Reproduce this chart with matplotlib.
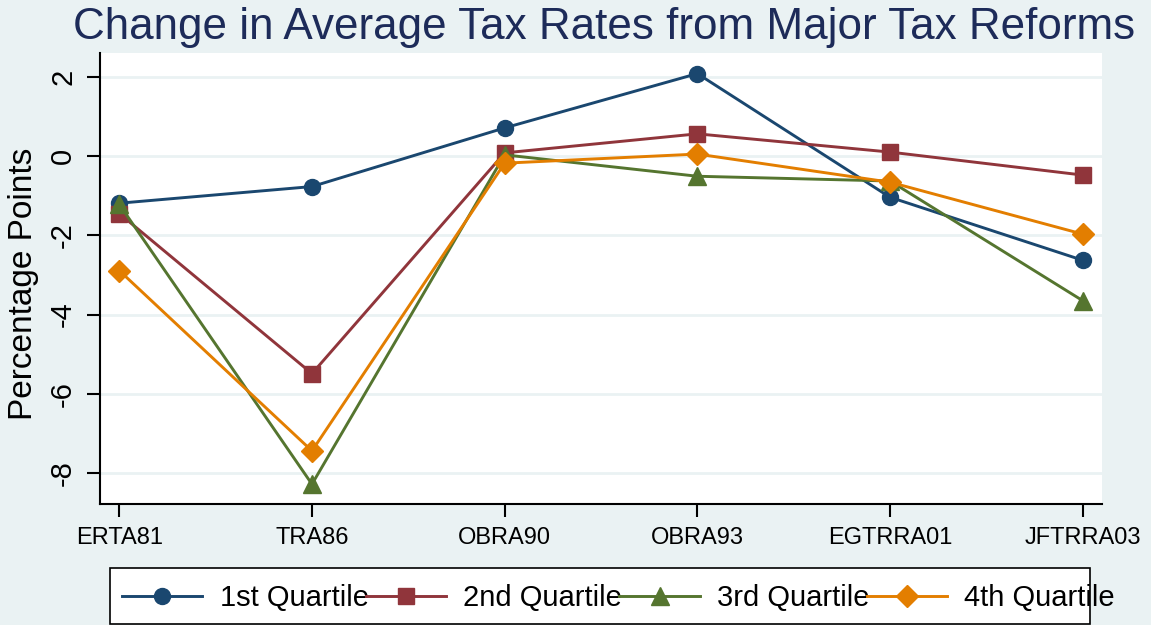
import matplotlib.pyplot as plt
from matplotlib.patches import Rectangle

# 税制改正ごとの平均税率の変化（パーセントポイント）
reforms = ["ERTA81", "TRA86", "OBRA90", "OBRA93", "EGTRRA01", "JFTRRA03"]
q1 = [-1.19, -0.77, 0.71, 2.08, -1.04, -2.63]
q2 = [-1.45, -5.49, 0.08, 0.56, 0.10, -0.48]
q3 = [-1.22, -8.28, 0.03, -0.51, -0.63, -3.65]
q4 = [-2.89, -7.44, -0.18, 0.05, -0.66, -1.97]
labels = ["1st Quartile", "2nd Quartile", "3rd Quartile", "4th Quartile"]

plt.rcParams["font.family"] = ["Liberation Sans", "DejaVu Sans"]

W, H = 1151, 625
bg = "#eaf2f3"
series = [
    (q1, "#1a476f", "o", 11.5),
    (q2, "#90353b", "s", 11.5),
    (q3, "#55752f", "^", 13.5),
    (q4, "#e37e00", "D", 11),
]

fig = plt.figure(figsize=(W / 100, H / 100), dpi=100, facecolor=bg)
ax = fig.add_axes([100 / W, 1 - 504 / H, 1002 / W, 451 / H])

x = list(range(len(reforms)))
for (vals, col, mk, ms), lab in zip(series, labels):
    ax.plot(x, vals, color=col, marker=mk, markersize=ms, lw=2.1, label=lab, zorder=3)

ax.set_xlim(-0.1, 5.1)
ax.set_ylim(-8.78, 2.6)
ax.set_xticks(x)
ax.set_xticklabels(reforms, fontsize=17)
ax.set_yticks([2, 0, -2, -4, -6, -8])
ax.set_yticklabels(["2", "0", "-2", "-4", "-6", "-8"], fontsize=21, rotation=90, va="center")
ax.tick_params(length=9.5, width=1.5)
ax.tick_params(axis="x", pad=7)
ax.tick_params(axis="y", pad=7)

ax.grid(axis="y", color=bg, lw=2, zorder=0)
ax.spines["top"].set_visible(False)
ax.spines["right"].set_visible(False)
ax.spines["left"].set_linewidth(1.5)
ax.spines["bottom"].set_linewidth(1.5)

ax.set_ylabel("Percentage Points", fontsize=24, va="center")
ax.yaxis.set_label_coords((24 - 100) / 1002, (504 - 284) / 451)

fig.text(604 / W, 1 - 28 / H, "Change in Average Tax Rates from Major Tax Reforms",
         ha="center", va="center", fontsize=31.7, color="#1d2b59")

# 凡例の枠（Stata風に文字がはみ出す）
fig.patches.append(Rectangle((110 / W, 1 - 624 / H), 980 / W, 56 / H,
                             transform=fig.transFigure, facecolor="white",
                             edgecolor="black", lw=1.2, zorder=0))
leg = fig.legend(loc="center left", bbox_to_anchor=(122 / W, 1 - 598 / H), ncol=4,
                 fontsize=21, frameon=False, handlelength=2.75,
                 columnspacing=-0.1, handletextpad=0.6,
                 borderpad=0, borderaxespad=0)

fig.savefig("out.png", dpi=100, facecolor=bg)
